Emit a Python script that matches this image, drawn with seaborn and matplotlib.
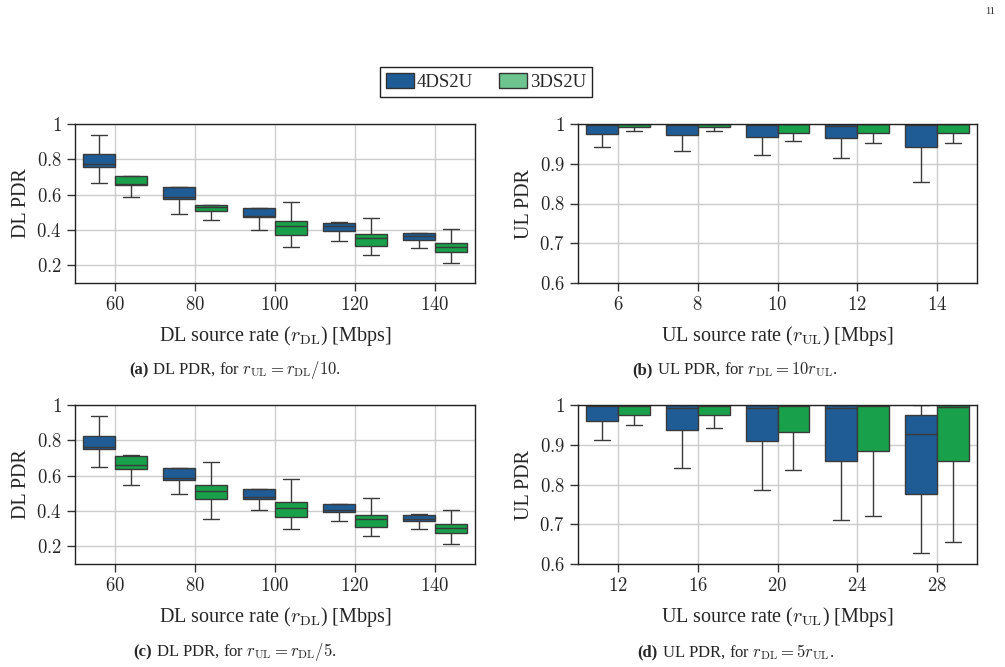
import numpy as np
import pandas as pd
import seaborn as sns
import matplotlib.pyplot as plt
from matplotlib.patches import Patch
from matplotlib.ticker import FuncFormatter

# five-number summaries: whisker low, q1, median, q3, whisker high
dl_rates = [60, 80, 100, 120, 140]

a_4ds = [[0.664, 0.755, 0.774, 0.830, 0.938],
         [0.492, 0.577, 0.589, 0.642, 0.645],
         [0.402, 0.472, 0.479, 0.523, 0.525],
         [0.336, 0.396, 0.425, 0.442, 0.443],
         [0.300, 0.342, 0.366, 0.383, 0.384]]
a_3ds = [[0.589, 0.655, 0.662, 0.706, 0.707],
         [0.457, 0.509, 0.528, 0.543, 0.544],
         [0.306, 0.372, 0.421, 0.451, 0.558],
         [0.258, 0.311, 0.355, 0.379, 0.468],
         [0.211, 0.274, 0.306, 0.328, 0.404]]

ul_rates_b = [6, 8, 10, 12, 14]
b_4ds = [[0.941, 0.975, 0.997, 1.0, 1.0],
         [0.931, 0.972, 0.997, 1.0, 1.0],
         [0.923, 0.968, 0.997, 1.0, 1.0],
         [0.915, 0.966, 0.995, 1.0, 1.0],
         [0.854, 0.941, 0.997, 1.0, 1.0]]
b_3ds = [[0.983, 0.993, 0.999, 1.0, 1.0],
         [0.982, 0.993, 0.999, 1.0, 1.0],
         [0.956, 0.977, 0.9995, 1.0, 1.0],
         [0.951, 0.978, 0.9995, 1.0, 1.0],
         [0.953, 0.978, 0.9995, 1.0, 1.0]]

c_4ds = [[0.650, 0.753, 0.765, 0.827, 0.936],
         [0.497, 0.576, 0.589, 0.642, 0.643],
         [0.405, 0.469, 0.480, 0.524, 0.525],
         [0.341, 0.394, 0.403, 0.439, 0.440],
         [0.300, 0.341, 0.356, 0.380, 0.381]]
c_3ds = [[0.550, 0.638, 0.663, 0.714, 0.715],
         [0.356, 0.467, 0.514, 0.550, 0.678],
         [0.299, 0.365, 0.418, 0.452, 0.580],
         [0.256, 0.309, 0.352, 0.379, 0.471],
         [0.215, 0.273, 0.303, 0.328, 0.407]]

ul_rates_d = [12, 16, 20, 24, 28]
d_4ds = [[0.911, 0.961, 0.998, 1.0, 1.0],
         [0.841, 0.936, 0.992, 1.0, 1.0],
         [0.787, 0.910, 0.992, 1.0, 1.0],
         [0.710, 0.858, 0.992, 1.0, 1.0],
         [0.627, 0.777, 0.926, 0.976, 1.0]]
d_3ds = [[0.950, 0.976, 0.997, 1.0, 1.0],
         [0.941, 0.974, 0.997, 1.0, 1.0],
         [0.837, 0.932, 0.997, 1.0, 1.0],
         [0.720, 0.885, 0.997, 1.0, 1.0],
         [0.655, 0.859, 0.994, 0.999, 1.0]]

schemes = ["4DS2U", "3DS2U"]
box_colors = {"4DS2U": "#1f5b94", "3DS2U": "#19a04a"}
legend_colors = ["#1f5b94", "#6dc48e"]


def to_long(rates, s4, s3):
    rows = []
    for name, stats in zip(schemes, [s4, s3]):
        for r, five in zip(rates, stats):
            for v in five:
                rows.append({"rate": r, "pdr": v, "scheme": name})
    return pd.DataFrame(rows)


sns.set_style("white")
plt.rcParams["font.family"] = ["Liberation Serif", "DejaVu Serif"]
plt.rcParams["mathtext.fontset"] = "cm"

fig = plt.figure(figsize=(10.05, 6.67), dpi=100)
W, H = 1005, 667


def add_ax(x0, y0, x1, y1):
    return fig.add_axes([x0 / W, 1 - y1 / H, (x1 - x0) / W, (y1 - y0) / H])


panels = [
    (add_ax(75, 124, 475, 283), dl_rates, a_4ds, a_3ds, (50, 150), (0.1, 1.0),
     [0.2, 0.4, 0.6, 0.8, 1.0], "DL PDR", r"DL source rate ($r_{\mathrm{DL}}$) [Mbps]"),
    (add_ax(578, 124, 977, 283), ul_rates_b, b_4ds, b_3ds, (5, 15), (0.6, 1.0),
     [0.6, 0.7, 0.8, 0.9, 1.0], "UL PDR", r"UL source rate ($r_{\mathrm{UL}}$) [Mbps]"),
    (add_ax(75, 405, 475, 564), dl_rates, c_4ds, c_3ds, (50, 150), (0.1, 1.0),
     [0.2, 0.4, 0.6, 0.8, 1.0], "DL PDR", r"DL source rate ($r_{\mathrm{DL}}$) [Mbps]"),
    (add_ax(578, 405, 977, 564), ul_rates_d, d_4ds, d_3ds, (10, 30), (0.6, 1.0),
     [0.6, 0.7, 0.8, 0.9, 1.0], "UL PDR", r"UL source rate ($r_{\mathrm{UL}}$) [Mbps]"),
]

for ax, rates, s4, s3, xlim, ylim, yticks, ylab, xlab in panels:
    df = to_long(rates, s4, s3)
    sns.boxplot(data=df, x="rate", y="pdr", hue="scheme", hue_order=schemes,
                palette=box_colors, native_scale=True, whis=(0, 100),
                width=0.8, saturation=1, linecolor="#3a3a3a", linewidth=1,
                legend=False, ax=ax)
    ax.set_xlim(*xlim)
    ax.set_ylim(*ylim)
    ax.set_xticks(rates)
    ax.set_yticks(yticks)
    fmt = FuncFormatter(lambda v, p: f"${v:g}$")
    ax.xaxis.set_major_formatter(fmt)
    ax.yaxis.set_major_formatter(fmt)
    ax.grid(True, color="#cccccc", linewidth=1)
    ax.set_axisbelow(True)
    ax.tick_params(direction="out", length=6, width=1, color="#333333",
                   labelsize=13.5, left=True, bottom=True)
    for sp in ax.spines.values():
        sp.set_color("#222222")
        sp.set_linewidth(1)
    ax.set_ylabel(ylab, fontsize=14.5)
    ax.set_xlabel(xlab, fontsize=14.5)
    ax.yaxis.set_label_coords(-0.11, 0.5)
    ax.xaxis.set_label_coords(0.5, -0.255)

# captions, centred under each panel
captions = [
    (235, 370, "(a)", r" DL PDR, for $r_{\mathrm{UL}} = r_{\mathrm{DL}}/10$."),
    (735, 370, "(b)", r" UL PDR, for $r_{\mathrm{DL}} = 10r_{\mathrm{UL}}$."),
    (235, 652, "(c)", r" DL PDR, for $r_{\mathrm{UL}} = r_{\mathrm{DL}}/5$."),
    (736, 652, "(d)", r" UL PDR, for $r_{\mathrm{DL}} = 5r_{\mathrm{UL}}$."),
]
renderer = fig.canvas.get_renderer()
for xc, y, tag, rest in captions:
    t = fig.text(0, 1 - y / H, tag, fontsize=12, fontweight="bold",
                 ha="left", va="center")
    r = fig.text(0, 1 - y / H, rest, fontsize=12, ha="left", va="center")
    w1 = t.get_window_extent(renderer).width
    w2 = r.get_window_extent(renderer).width
    x0 = xc - (w1 + w2) / 2
    t.set_x(x0 / W)
    r.set_x((x0 + w1) / W)

handles = [Patch(facecolor=c, edgecolor="#333333", linewidth=1) for c in legend_colors]
fig.legend(handles, schemes, loc="center", bbox_to_anchor=(486 / W, 1 - 82 / H),
           ncol=2, frameon=True, fancybox=False, edgecolor="#222222",
           fontsize=13.5, handlelength=1.5, handleheight=0.85, columnspacing=1.4,
           handletextpad=0.15, borderpad=0.3, framealpha=1)

fig.text(990 / W, 1 - 12 / H, "11", fontsize=7.5, ha="center", va="center")

fig.savefig("out.png", dpi=100)
